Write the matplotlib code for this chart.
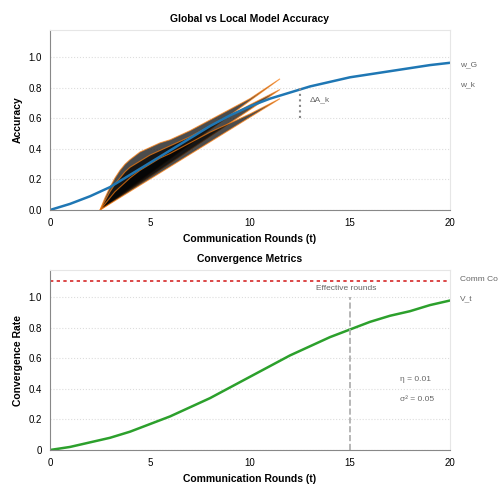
import matplotlib
matplotlib.use("Agg")
import matplotlib.pyplot as plt

plt.rcParams['font.family'] = ['Liberation Sans', 'DejaVu Sans']

rounds = [0, 1, 2, 3, 4, 5, 6, 7, 8, 9, 10, 11, 12, 13, 14, 15, 16, 17, 18, 19, 20]
global_acc = [0, 0.04, 0.09, 0.15, 0.23, 0.31, 0.39, 0.47, 0.55, 0.62, 0.68, 0.73, 0.77, 0.81, 0.84, 0.87, 0.89, 0.91, 0.93, 0.95, 0.965]
conv_rate = [0, 0.02, 0.05, 0.08, 0.12, 0.17, 0.22, 0.28, 0.34, 0.41, 0.48, 0.55, 0.62, 0.68, 0.74, 0.79, 0.84, 0.88, 0.91, 0.95, 0.98]
local_x = [[2.5, 2.75, 3.0, 3.25, 3.5, 3.75, 4.0, 4.5, 5.0, 5.5, 6.0, 7.0, 8.0, 9.0, 10.0, 11.5],
           [2.5, 2.75, 3.0, 3.25, 3.5, 3.75, 4.0, 4.5, 5.0, 5.5, 6.0, 7.0, 8.0, 9.0, 10.0, 11.5],
           [2.5, 2.75, 3.0, 3.25, 3.5, 3.75, 4.0, 4.5, 5.0, 5.5, 6.0, 7.0, 8.0, 9.0, 10.0, 11.5]]
local_acc = [[0, 0.08, 0.15, 0.21, 0.26, 0.30, 0.33, 0.38, 0.41, 0.44, 0.46, 0.52, 0.59, 0.66, 0.73, 0.86],
             [0, 0.06, 0.12, 0.17, 0.21, 0.25, 0.28, 0.32, 0.36, 0.39, 0.42, 0.48, 0.55, 0.62, 0.69, 0.79],
             [0, 0.04, 0.08, 0.12, 0.15, 0.18, 0.21, 0.26, 0.30, 0.34, 0.37, 0.44, 0.51, 0.57, 0.63, 0.73]]

fig = plt.figure(figsize=(5, 5), dpi=100)
ax1 = fig.add_axes([0.10, 0.58, 0.80, 0.36])
ax2 = fig.add_axes([0.10, 0.10, 0.80, 0.36])

def style(ax):
    for s in ["top", "right"]:
        ax.spines[s].set_color("#e6e6e6")
    for s in ["left", "bottom"]:
        ax.spines[s].set_color("#888888")
    ax.tick_params(labelsize=7, length=0, pad=6)
    ax.set_xlim(0, 20)
    ax.set_ylim(0, 1.18)
    ax.set_xticks([0, 5, 10, 15, 20])
    ax.grid(axis="y", linestyle=":", color="#dddddd", linewidth=0.8)
    ax.set_axisbelow(True)
    ax.set_xlabel("Communication Rounds (t)", fontsize=7.5, fontweight="bold")

style(ax1)
ax1.plot(rounds, global_acc, color="#1f77b4", linewidth=1.8)
for xs, ys in zip(local_x, local_acc):
    ax1.fill(xs, ys, facecolor="black", alpha=0.7, edgecolor="#ff7f0e", linewidth=0.8)
ax1.set_yticks([0, 0.2, 0.4, 0.6, 0.8, 1.0])
ax1.set_yticklabels(["0.0", "0.2", "0.4", "0.6", "0.8", "1.0"])
ax1.set_ylabel("Accuracy", fontsize=7.5, fontweight="bold")
ax1.set_title("Global vs Local Model Accuracy", fontsize=7.5, fontweight="bold")
ax1.vlines(12.5, 0.6, 0.8, colors="#888888", linestyles=":", linewidth=1.5)
ax1.text(13.0, 0.72, "ΔA_k", fontsize=6, color="#666666", va="center")
ax1.text(20.5, 0.95, "w_G", fontsize=6, color="#666666", va="center", clip_on=False)
ax1.text(20.5, 0.82, "w_k", fontsize=6, color="#666666", va="center", clip_on=False)

style(ax2)
ax2.plot(rounds, conv_rate, color="#2ca02c", linewidth=1.8)
ax2.axhline(1.11, color="#d62728", linestyle=(0, (2, 2)), linewidth=1.2)
ax2.vlines(15, 0, 1.0, colors="#aaaaaa", linestyles="--", linewidth=1.2)
ax2.set_yticks([0, 0.2, 0.4, 0.6, 0.8, 1.0])
ax2.set_yticklabels(["0", "0.2", "0.4", "0.6", "0.8", "1.0"])
ax2.set_ylabel("Convergence Rate", fontsize=7.5, fontweight="bold")
ax2.set_title("Convergence Metrics", fontsize=7.5, fontweight="bold")
ax2.text(13.3, 1.06, "Effective rounds", fontsize=6, color="#666666", va="center")
ax2.text(17.5, 0.46, "η = 0.01", fontsize=6, color="#666666", va="center")
ax2.text(17.5, 0.33, "σ² = 0.05", fontsize=6, color="#666666", va="center")
ax2.text(20.5, 1.12, "Comm Co", fontsize=6, color="#666666", va="center", clip_on=False)
ax2.text(20.5, 0.99, "V_t", fontsize=6, color="#666666", va="center", clip_on=False)

fig.savefig("out.png", dpi=100)
